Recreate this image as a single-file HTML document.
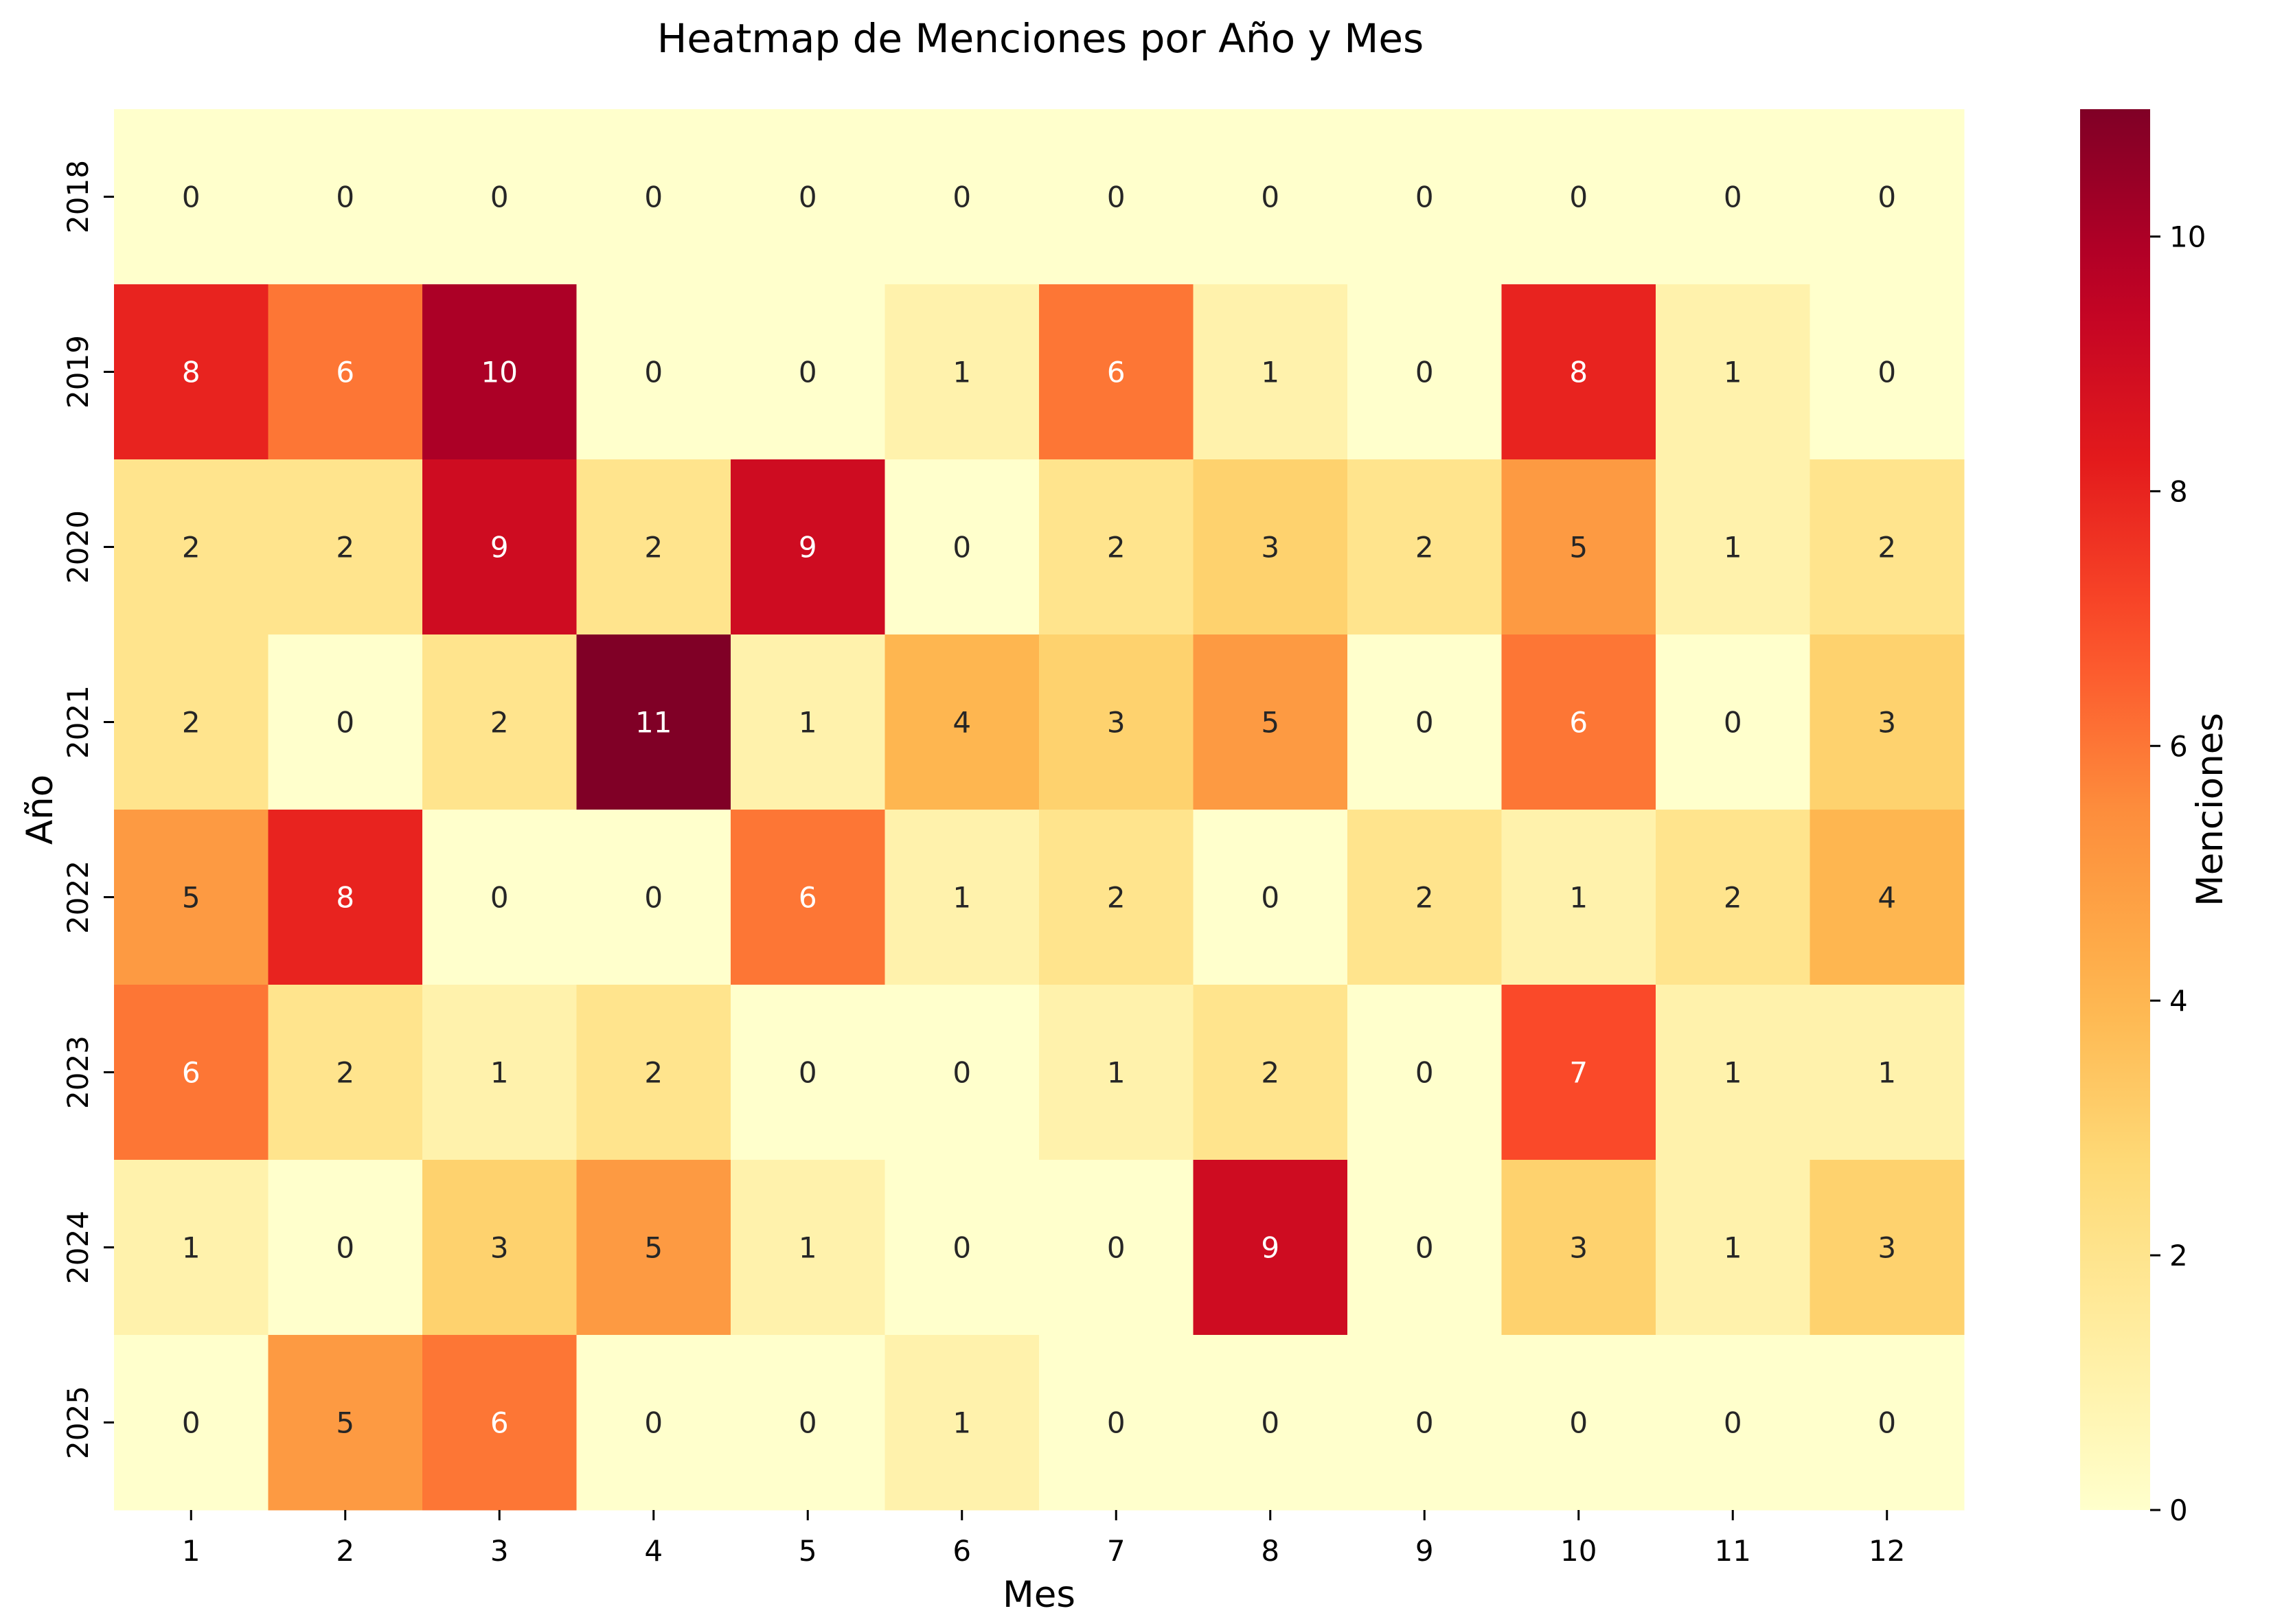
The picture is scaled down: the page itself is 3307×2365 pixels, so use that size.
<!DOCTYPE html>
<html><head><meta charset="utf-8"><style>body{margin:0;background:#fff}svg{display:block;font-family:"DejaVu Sans","Liberation Sans",sans-serif}</style></head>
<body>
<svg id="chart" width="3307" height="2365" viewBox="0 0 3307 2365" xmlns="http://www.w3.org/2000/svg">
<defs><linearGradient id="cbg" x1="0" y1="1" x2="0" y2="0"></linearGradient></defs>
<text x="1515" y="76" font-size="58" text-anchor="middle">Heatmap de Menciones por Año y Mes</text>
<text x="1513" y="2340" font-size="53" text-anchor="middle">Mes</text>
<text transform="translate(76,1179) rotate(-90)" font-size="53" text-anchor="middle">Año</text>
<text transform="translate(3236,1179) rotate(-90)" font-size="53" text-anchor="middle">Menciones</text>
<g id="cells"></g><g id="axes"></g>
</svg>
<script>
const years=["2018","2019","2020","2021","2022","2023","2024","2025"];
const months=["1","2","3","4","5","6","7","8","9","10","11","12"];
const v2018=[0,0,0,0,0,0,0,0,0,0,0,0];
const v2019=[8,6,10,0,0,1,6,1,0,8,1,0];
const v2020=[2,2,9,2,9,0,2,3,2,5,1,2];
const v2021=[2,0,2,11,1,4,3,5,0,6,0,3];
const v2022=[5,8,0,0,6,1,2,0,2,1,2,4];
const v2023=[6,2,1,2,0,0,1,2,0,7,1,1];
const v2024=[1,0,3,5,1,0,0,9,0,3,1,3];
const v2025=[0,5,6,0,0,1,0,0,0,0,0,0];
const values=[v2018,v2019,v2020,v2021,v2022,v2023,v2024,v2025];
const cbTicks=[0,2,4,6,8,10];
const vmin=0,vmax=11;
const L=166,R=2860,T=159,B=2199,CL=3029,CR=3131;
const stops=["#ffffcc","#ffeda0","#fed976","#feb24c","#fd8d3c","#fc4e2a","#e31a1c","#bd0026","#800026"].map(h=>[1,3,5].map(i=>parseInt(h.substr(i,2),16)));
function cmap(t){t=Math.max(0,Math.min(1,t));const p=t*(stops.length-1),i=Math.min(Math.floor(p),stops.length-2),f=p-i;return stops[i].map((c,k)=>Math.round(c+(stops[i+1][k]-c)*f));}
function lum(c){return c.map(x=>{x/=255;return x<=0.03928?x/12.92:Math.pow((x+0.055)/1.055,2.4)}).reduce((a,x,i)=>a+x*[0.2126,0.7152,0.0722][i],0);}
const NS="http://www.w3.org/2000/svg";
function mk(tag,at,parent){const e=document.createElementNS(NS,tag);for(const k in at)e.setAttribute(k,at[k]);parent.appendChild(e);return e;}
const cw=(R-L)/months.length,ch=(B-T)/years.length;
const xS=j=>L+j*cw,yS=i=>T+i*ch;
const cells=document.getElementById('cells'),axes=document.getElementById('axes');
values.forEach((row,i)=>row.forEach((v,j)=>{
 const c=cmap((v-vmin)/(vmax-vmin));
 const r=mk('rect',{x:xS(j),y:yS(i),width:cw+0.5,height:ch+0.5,fill:`rgb(${c})`},cells);
 
 
 const t=mk('text',{x:xS(j)+cw/2,y:yS(i)+ch/2+15,'font-size':42,'text-anchor':'middle',fill:lum(c)<0.408?'#fff':'#262626'},cells);
 t.textContent=v;
 
 
}));
months.forEach((m,j)=>{const x=xS(j)+cw/2;
 mk('line',{x1:x,x2:x,y1:B,y2:B+15,stroke:'#000','stroke-width':3},axes);
 const t=mk('text',{x:x,y:B+74,'font-size':42,'text-anchor':'middle'},axes);t.textContent=m;
 
 });
years.forEach((y,i)=>{const yy=yS(i)+ch/2;
 mk('line',{x1:L-15,x2:L,y1:yy,y2:yy,stroke:'#000','stroke-width':3},axes);
 const t=mk('text',{transform:`translate(128,${yy}) rotate(-90)`,'font-size':42,'text-anchor':'middle'},axes);t.textContent=y;
 
 });
const g=document.getElementById('cbg');
for(let k=0;k<=20;k++){mk('stop',{offset:k/20,'stop-color':`rgb(${cmap(k/20)})`},g);}
const cb=mk('rect',{x:CL,y:T,width:CR-CL,height:B-T,fill:'url(#cbg)'},axes);


cbTicks.forEach(v=>{const y=B-(v-vmin)/(vmax-vmin)*(B-T);
 mk('line',{x1:CR,x2:CR+15,y1:y,y2:y,stroke:'#000','stroke-width':3},axes);
 const t=mk('text',{x:CR+28,y:y+15,'font-size':42},axes);t.textContent=v;
 
 });
</script>
</body></html>
